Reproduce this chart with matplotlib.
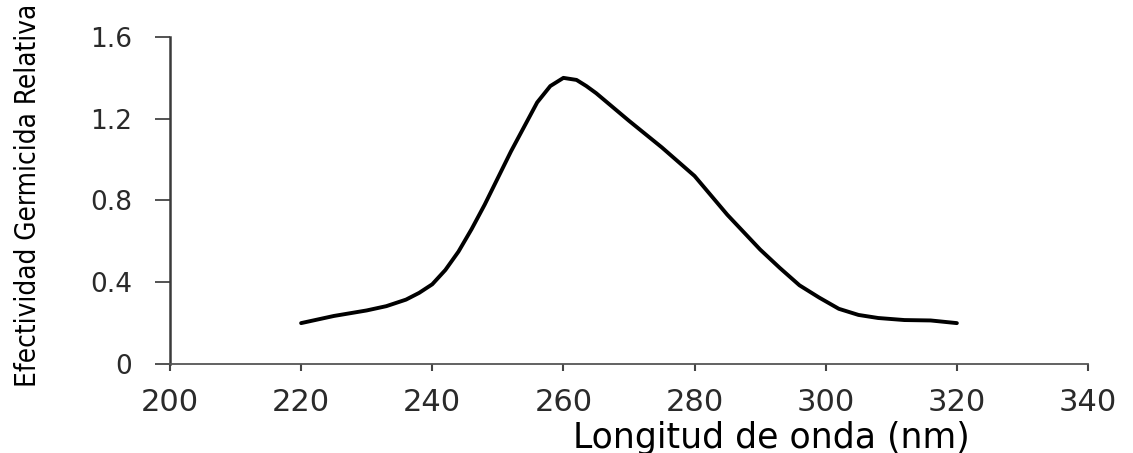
import matplotlib
matplotlib.use("Agg")
import matplotlib.pyplot as plt

# efectividad germicida relativa frente a la longitud de onda
longitud = [220, 225, 230, 233, 236, 238, 240, 242, 244, 246, 248, 250, 252, 254,
            256, 258, 260, 262, 263.5, 265, 270, 275, 280, 285, 290, 293, 296,
            299, 302, 305, 308, 312, 316, 320]
efectividad = [0.20, 0.235, 0.262, 0.283, 0.315, 0.348, 0.39, 0.46, 0.55, 0.66, 0.78, 0.91,
               1.04, 1.16, 1.28, 1.36, 1.40, 1.39, 1.36, 1.325, 1.19, 1.06, 0.92, 0.73,
               0.56, 0.47, 0.385, 0.325, 0.27, 0.24, 0.225, 0.215, 0.213, 0.20]

xticks = [200, 220, 240, 260, 280, 300, 320, 340]
yticks = [0, 0.4, 0.8, 1.2, 1.6]
yticklabels = ["0", "0.4", "0.8", "1.2", "1.6"]

fig = plt.figure(figsize=(11.33, 4.53), dpi=100)
ax = fig.add_axes([0.150, 0.1965, 0.8103, 0.7218])

ax.plot(longitud, efectividad, color="black", lw=2.8, solid_capstyle="round",
        solid_joinstyle="round")

ax.set_xlim(200, 340)
ax.set_ylim(0, 1.6)

for lado in ["top", "right"]:
    ax.spines[lado].set_visible(False)
ax.spines["left"].set_color("#3a3a3a")
ax.spines["left"].set_linewidth(1.8)
ax.spines["bottom"].set_color("#555555")
ax.spines["bottom"].set_linewidth(1.3)

ax.set_xticks(xticks)
ax.set_xticklabels([str(v) for v in xticks], fontsize=22, color="#2a2a2a",
                   family="DejaVu Sans")
ax.set_yticks(yticks)
ax.set_yticklabels(yticklabels, fontsize=19, color="#2a2a2a", family="DejaVu Sans")
ax.tick_params(axis="x", length=5, width=1.5, color="#444444", pad=12)
ax.tick_params(axis="y", length=11, width=1.3, color="#444444", pad=16)

ax.set_xlabel("Longitud de onda (nm)", fontsize=25, family="DejaVu Sans")
ax.xaxis.set_label_coords(0.655, -0.226)
ax.xaxis.label.set_va("center")

ax.set_ylabel("Efectividad Germicida Relativa", fontsize=20,
              family="DejaVu Sans", fontstretch="condensed")
ax.yaxis.set_label_coords(-0.155, 0.517)
ax.yaxis.label.set_va("center")

fig.savefig("out.png", dpi=100)
